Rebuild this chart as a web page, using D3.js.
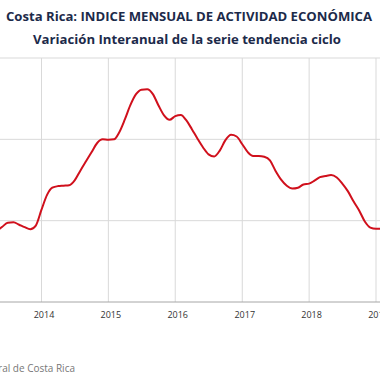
<!DOCTYPE html>
<html><head><meta charset="utf-8">
<script src="https://cdn.jsdelivr.net/npm/d3@7"></script>
<style>html,body{margin:0;padding:0;background:#fff;overflow:hidden}</style>
</head><body>
<script>
const title1 = "Costa Rica: INDICE MENSUAL DE ACTIVIDAD ECONÓMICA";
const title2 = "Variación Interanual de la serie tendencia ciclo";
const sourceText = "Fuente: Banco Central de Costa Rica";
const startYear = 2013, startMonth = 4; // May 2013 (0-based month)
const values = [1.75,1.85,1.95,1.96,1.90,1.84,1.79,1.88,
  2.27,2.64,2.81,2.85,2.86,2.87,2.99,3.23,3.46,3.68,3.91,4.00,
  3.99,4.00,4.17,4.49,4.84,5.11,5.22,5.23,5.11,4.84,4.59,4.48,
  4.57,4.60,4.47,4.25,4.02,3.80,3.63,3.58,3.73,3.98,4.11,4.07,
  3.88,3.68,3.59,3.59,3.57,3.48,3.23,3.01,2.86,2.79,2.81,2.89,
  2.91,2.99,3.07,3.10,3.12,3.06,2.91,2.72,2.47,2.25,1.98,1.83,
  1.80,1.80];
const yearTicks = [2013,2014,2015,2016,2017,2018,2019];
const yTicks = [0,2,4,6];

const W = 380, H = 380;
const svg = d3.select("body").append("svg").attr("width", W).attr("height", H)
  .style("font-family", "'Open Sans', sans-serif");

const data = values.map((v,i) => ({date: new Date(startYear, startMonth + i, 1), v}));

const x = d3.scaleTime().domain([new Date(2014,0,1), new Date(2019,0,1)]).range([41.5, 376]);
const y = d3.scaleLinear().domain([0,6]).range([302,58]);
const xLeft = x(new Date(2013,0,1)), xRight = 420;

// horizontal gridlines
svg.append("g").selectAll("line").data(yTicks.filter(d=>d>0)).join("line")
  .attr("x1", xLeft).attr("x2", xRight)
  .attr("y1", d=>y(d)).attr("y2", d=>y(d))
  .attr("stroke", "#d9d9d9").attr("stroke-width", 1);
// vertical gridlines
svg.append("g").selectAll("line").data(yearTicks).join("line")
  .attr("x1", d=>x(new Date(d,0,1))).attr("x2", d=>x(new Date(d,0,1)))
  .attr("y1", y(6)).attr("y2", y(0))
  .attr("stroke", "#d9d9d9").attr("stroke-width", 1);
// bottom axis line
svg.append("line").attr("x1", xLeft).attr("x2", xRight)
  .attr("y1", y(0)).attr("y2", y(0)).attr("stroke", "#a6a6a6").attr("stroke-width", 1);
// x labels
svg.append("g").selectAll("text").data(yearTicks.filter(d=>d>2013)).join("text")
  .attr("x", d=>x(new Date(d,0,1)) + 2.5).attr("y", 317.5).attr("text-anchor","middle")
  .attr("font-size", 9).attr("fill", "#333").text(d=>d);

// line
const line = d3.line().x(d=>x(d.date)).y(d=>y(d.v)).curve(d3.curveMonotoneX);
svg.append("path").datum(data).attr("d", line)
  .attr("fill","none").attr("stroke","#d0101c").attr("stroke-width",2);

// titles
svg.append("text").attr("x", 189).attr("y", 20.5).attr("text-anchor","middle")
  .attr("font-size", 12.5).attr("font-weight","bold").attr("fill","#1c2a4a")
  .attr("textLength", 366).attr("lengthAdjust","spacingAndGlyphs").text(title1);
svg.append("text").attr("x", 187).attr("y", 44).attr("text-anchor","middle")
  .attr("font-size", 12.5).attr("font-weight","bold").attr("fill","#1c2a4a")
  .attr("textLength", 308).attr("lengthAdjust","spacingAndGlyphs").text(title2);
// source
svg.append("text").attr("x", 75).attr("y", 372).attr("text-anchor","end")
  .attr("font-size", 10).attr("fill","#777").text(sourceText);
</script>
</body></html>
